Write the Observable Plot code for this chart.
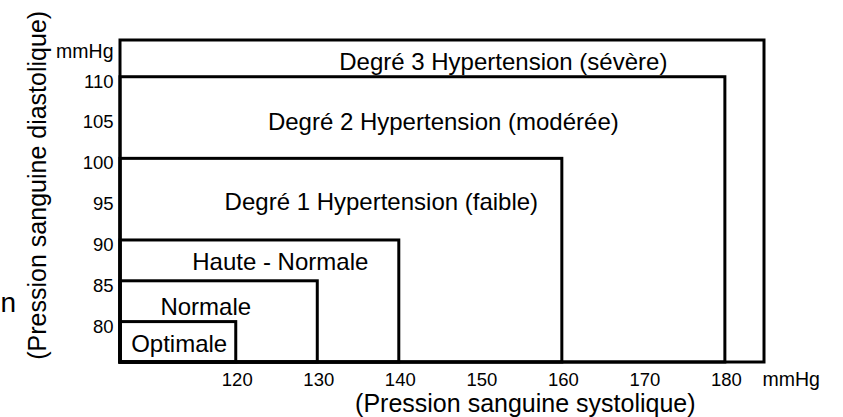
<!DOCTYPE html>
<html>
<head>
<meta charset="utf-8">
<script src="https://cdn.jsdelivr.net/npm/d3@7"></script>
<script src="https://cdn.jsdelivr.net/npm/@observablehq/plot@0.6"></script>
<style>
  html, body { margin: 0; padding: 0; background: #fff; }
  #chart { width: 843px; height: 417px; overflow: hidden; }
  #chart svg, #chart svg text { font-family: "Liberation Sans", Arial, sans-serif !important; }
</style>
</head>
<body>
<div id="chart"></div>
<script>
// Categories and thresholds (mmHg)
const categories = ["Optimale", "Normale", "Haute - Normale", "Degré 1 Hypertension (faible)", "Degré 2 Hypertension (modérée)", "Degré 3 Hypertension (sévère)"];
const systolic  = [120, 130, 140, 160, 180, 184.8];
const diastolic = [80, 85, 90, 100, 110, 114.5];
// label anchor points (data units)
const labelSys  = [113.0, 116.26, 125.4, 137.8, 145.4, 152.76];
const labelDia  = [77.28, 81.87, 87.33, 94.7, 104.42, 111.78];
const xTicks = [120, 130, 140, 150, 160, 170, 180];
const yTicks = [80, 85, 90, 95, 100, 105, 110];
const xMin = 105.8, yMin = 75.05;

const boxes = categories.map((c, i) => ({
  name: c, x1: xMin, x2: systolic[i], y1: yMin, y2: diastolic[i],
  lx: labelSys[i], ly: labelDia[i]
}));

const font = "'Liberation Sans', Arial, sans-serif";

const plot = Plot.plot({
  width: 843,
  height: 417,
  marginLeft: 120,
  marginRight: 79,
  marginTop: 40,
  marginBottom: 55,
  style: { fontFamily: font, fontSize: "18.5px", background: "#fff", color: "#000" },
  x: { domain: [xMin, systolic[5]] },
  y: { domain: [yMin, diastolic[5]] },
  marks: [
    Plot.axisX(xTicks, { tickSize: 0, tickPadding: 10, fontSize: 18.5, dx: 1, label: null }),
    Plot.axisY(yTicks, { tickSize: 0, tickPadding: 7, fontSize: 18.5, dy: 4.5, label: null }),
    Plot.rect(boxes, { x1: "x1", x2: "x2", y1: "y1", y2: "y2", fill: "none", stroke: "#000", strokeWidth: 3 }),
    Plot.text(boxes, { x: "lx", y: "ly", text: "name", fontSize: 24, fill: "#000" }),
    // unit labels
    Plot.text(["mmHg"], { x: xMin, y: diastolic[5], text: d => d, textAnchor: "end", lineAnchor: "middle", dx: -7, dy: 11, fontSize: 19.5, fill: "#000" }),
    Plot.text(["mmHg"], { x: systolic[5], y: yMin, text: d => d, textAnchor: "start", lineAnchor: "middle", dx: -2, dy: 17, fontSize: 19.5, fill: "#000" }),
    // axis titles
    Plot.text(["(Pression sanguine systolique)"], { frameAnchor: "bottom", lineAnchor: "middle", text: d => d, x: 155.46, dy: 41.7, fontSize: 25, fill: "#000" }),
    Plot.text(["(Pression sanguine diastolique)"], { frameAnchor: "left", textAnchor: "middle", lineAnchor: "middle", text: d => d, rotate: -90, dx: -83, y: 96.76, fontSize: 25, fill: "#000" }),
    Plot.text(["n"], { frameAnchor: "left", textAnchor: "start", lineAnchor: "middle", text: d => d, y: 82.3, dx: -120, fontSize: 28, fill: "#000" })
  ]
});
document.getElementById("chart").appendChild(plot);
</script>
</body>
</html>
